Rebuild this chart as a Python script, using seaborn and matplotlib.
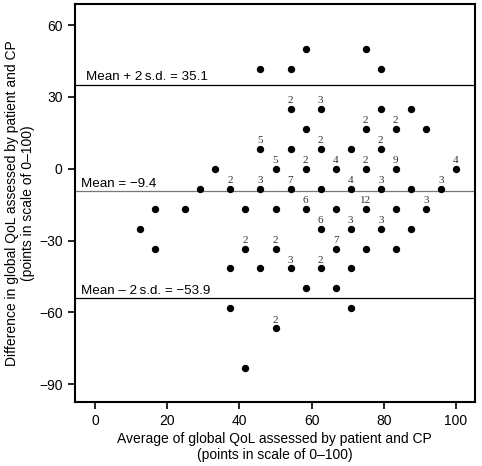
import numpy as np
import pandas as pd
import matplotlib
matplotlib.use("Agg")
import matplotlib.pyplot as plt
import seaborn as sns

# average of the two ratings (x), difference (y), number of coinciding subjects
avg_qol = [58.33, 75.00,
           45.83, 54.17, 79.17,
           54.17, 62.50, 79.17, 87.50,
           58.33, 75.00, 83.33, 91.67,
           45.83, 54.17, 62.50, 70.83, 79.17,
           33.33, 50.00, 58.33, 66.67, 75.00, 83.33, 100.00,
           29.17, 37.50, 45.83, 54.17, 62.50, 70.83, 79.17, 87.50, 95.83,
           16.67, 25.00, 41.67, 50.00, 58.33, 66.67, 75.00, 83.33, 91.67,
           12.50, 62.50, 70.83, 79.17, 87.50,
           16.67, 41.67, 50.00, 66.67, 75.00, 83.33,
           37.50, 45.83, 54.17, 62.50, 70.83,
           58.33, 66.67,
           37.50, 70.83,
           50.00,
           41.67]
diff_qol = [50.00, 50.00,
            41.67, 41.67, 41.67,
            25.00, 25.00, 25.00, 25.00,
            16.67, 16.67, 16.67, 16.67,
            8.33, 8.33, 8.33, 8.33, 8.33,
            0, 0, 0, 0, 0, 0, 0,
            -8.33, -8.33, -8.33, -8.33, -8.33, -8.33, -8.33, -8.33, -8.33,
            -16.67, -16.67, -16.67, -16.67, -16.67, -16.67, -16.67, -16.67, -16.67,
            -25.00, -25.00, -25.00, -25.00, -25.00,
            -33.33, -33.33, -33.33, -33.33, -33.33, -33.33,
            -41.67, -41.67, -41.67, -41.67, -41.67,
            -50.00, -50.00,
            -58.33, -58.33,
            -66.67,
            -83.33]
n_subjects = [1, 1,
              1, 1, 1,
              2, 3, 1, 1,
              1, 2, 2, 1,
              5, 1, 2, 1, 2,
              1, 5, 2, 4, 2, 9, 4,
              1, 2, 3, 7, 1, 4, 3, 1, 3,
              1, 1, 1, 1, 6, 1, 12, 1, 3,
              1, 6, 3, 3, 1,
              1, 2, 2, 7, 1, 1,
              1, 1, 3, 2, 1,
              1, 1,
              1, 1,
              2,
              1]

mean_diff = -9.4
upper_loa = 35.1
lower_loa = -53.9

df = pd.DataFrame({"avg": avg_qol, "diff": diff_qol, "n": n_subjects})

sns.set_style("ticks")
plt.rcParams['font.family'] = ['Liberation Sans', 'DejaVu Sans']
plt.rcParams['text.color'] = 'black'
plt.rcParams['axes.labelcolor'] = 'black'

fig = plt.figure(figsize=(4.82, 4.66), dpi=100)
ax = fig.add_axes([0.1546, 0.137, 0.831, 0.8545])

sns.scatterplot(data=df, x="avg", y="diff", color="black", s=28,
                edgecolor="black", linewidth=0, ax=ax, zorder=3)

# counts above the overlapping points
for a, d, n in zip(avg_qol, diff_qol, n_subjects):
    if n > 1:
        ax.annotate(str(n), (a, d), xytext=(0, 2.6), textcoords="offset points",
                    ha="center", va="bottom", fontsize=8, color="#333333",
                    family="Liberation Serif", zorder=4)

ax.axhline(upper_loa, color="black", lw=0.9, zorder=1)
ax.axhline(mean_diff, color="#777777", lw=0.9, zorder=1)
ax.axhline(lower_loa, color="black", lw=0.9, zorder=1)

ax.annotate(f"Mean + 2\u2009s.d. = {upper_loa}", (-2.5, upper_loa), xytext=(0, 3),
            textcoords="offset points", va="baseline", fontsize=9.6)
ax.annotate(f"Mean = \u2212{abs(mean_diff)}", (-4.0, mean_diff), xytext=(0, 3),
            textcoords="offset points", va="baseline", fontsize=9.6)
ax.annotate(f"Mean \u2013 2\u2009s.d. = \u2212{abs(lower_loa)}", (-4.0, lower_loa), xytext=(0, 3),
            textcoords="offset points", va="baseline", fontsize=9.6)

ax.set_xlim(-5.7, 105.3)
ax.set_ylim(-97.5, 68.8)
ax.set_xticks([0, 20, 40, 60, 80, 100])
ax.set_yticks([-90, -60, -30, 0, 30, 60])
ax.set_yticklabels(["\u221290", "\u221260", "\u221230", "0", "30", "60"])
ax.tick_params(direction="out", length=5, width=1.2, labelsize=10, colors="black")
for sp in ax.spines.values():
    sp.set_visible(True)
    sp.set_linewidth(1.5)
    sp.set_color("black")

ax.set_xlabel("Average of global QoL assessed by patient and CP\n(points in scale of 0\u2013100)",
              fontsize=10, labelpad=3)
ax.set_ylabel("Difference in global QoL assessed by patient and CP\n(points in scale of 0\u2013100)",
              fontsize=10, labelpad=3)

fig.savefig("out.png", dpi=100)
